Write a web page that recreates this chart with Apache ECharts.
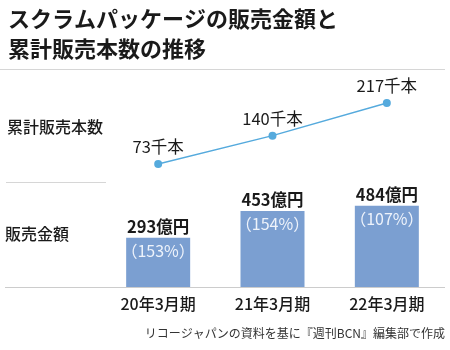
<!DOCTYPE html>
<html>
<head>
<meta charset="utf-8">
<script src="https://cdn.jsdelivr.net/npm/echarts@6/dist/echarts.min.js"></script>
<style>
  html, body { margin: 0; padding: 0; background: #fff; }
  #chart { width: 450px; height: 350px; }
</style>
</head>
<body>
<div id="chart"></div>
<script>
// Fiscal periods
const periods = ['20年3月期', '21年3月期', '22年3月期'];
// Cumulative units sold (thousand)
const unitsSold = [73, 140, 217];
// Sales amount (100 million yen)
const salesAmount = [293, 453, 484];
// Year-over-year ratio (%)
const yoyRatio = [153, 154, 107];

const FONT = '"Noto Sans CJK JP", "Noto Sans", sans-serif';
const chart = echarts.init(document.getElementById('chart'), null, { renderer: 'canvas' });

chart.setOption({
  backgroundColor: '#ffffff',
  animation: false,
  title: {
    text: 'スクラムパッケージの販売金額と\n累計販売本数の推移',
    left: 3,
    top: -1,
    textStyle: {
      fontFamily: FONT,
      fontSize: 22,
      fontWeight: 'bold',
      color: '#1a1a1a',
      lineHeight: 30
    }
  },
  grid: [
    // line chart (units sold)
    { left: 101, right: 6, top: 89, height: 106 },
    // bar chart (sales amount)
    { left: 101, right: 6, top: 186.2, height: 100.8 }
  ],
  xAxis: [
    {
      type: 'category', gridIndex: 0, data: periods,
      axisLine: { show: false }, axisTick: { show: false }, axisLabel: { show: false }
    },
    {
      type: 'category', gridIndex: 1, data: periods,
      axisLine: { show: false }, axisTick: { show: false },
      axisLabel: {
        fontFamily: FONT, fontSize: 16, fontWeight: 500, color: '#1a1a1a', margin: 9
      }
    }
  ],
  yAxis: [
    { type: 'value', gridIndex: 0, min: 0, max: 250, show: false },
    { type: 'value', gridIndex: 1, min: 0, max: 600, show: false }
  ],
  series: [
    {
      type: 'line',
      xAxisIndex: 0, yAxisIndex: 0,
      data: unitsSold,
      symbol: 'circle',
      symbolSize: 8,
      lineStyle: { color: '#55aadd', width: 1.5 },
      itemStyle: { color: '#55aadd' },
      label: {
        show: true,
        position: 'top',
        distance: 5,
        formatter: p => p.value + '千本',
        fontFamily: FONT, fontSize: 16.5, color: '#1a1a1a'
      }
    },
    {
      type: 'bar',
      xAxisIndex: 1, yAxisIndex: 1,
      data: salesAmount,
      barWidth: 64,
      itemStyle: { color: '#7b9fd1' },
      label: {
        show: true,
        position: 'top',
        distance: 3,
        formatter: p => p.value + '億円',
        fontFamily: FONT, fontSize: 16.5, fontWeight: 'bold', color: '#1a1a1a'
      }
    },
    {
      // ratio labels inside the bars
      type: 'bar',
      xAxisIndex: 1, yAxisIndex: 1,
      data: salesAmount,
      barWidth: 64,
      barGap: '-100%',
      itemStyle: { color: 'transparent' },
      label: {
        show: true,
        position: 'insideTop',
        distance: 5,
        formatter: p => '（' + yoyRatio[p.dataIndex] + '%）',
        fontFamily: FONT, fontSize: 16, color: '#eef3fb'
      }
    }
  ],
  graphic: [
    { type: 'line', shape: { x1: 0, y1: 69.5, x2: 445, y2: 69.5 }, style: { stroke: '#d6d6d6', lineWidth: 1 } },
    { type: 'line', shape: { x1: 6, y1: 182.5, x2: 106, y2: 182.5 }, style: { stroke: '#d6d6d6', lineWidth: 1 } },
    { type: 'line', shape: { x1: 5, y1: 287.5, x2: 445, y2: 287.5 }, style: { stroke: '#cccccc', lineWidth: 1 } },
    {
      type: 'text', left: 7, top: 119,
      style: { text: '累計販売本数', fontFamily: FONT, fontSize: 16, fontWeight: 500, fill: '#1a1a1a' }
    },
    {
      type: 'text', left: 5, top: 226,
      style: { text: '販売金額', fontFamily: FONT, fontSize: 16, fontWeight: 500, fill: '#1a1a1a' }
    },
    {
      type: 'text', right: 5, top: 327,
      style: { text: 'リコージャパンの資料を基に『週刊BCN』編集部で作成', fontFamily: FONT, fontSize: 12, fill: '#333333' }
    }
  ]
});
</script>
</body>
</html>
